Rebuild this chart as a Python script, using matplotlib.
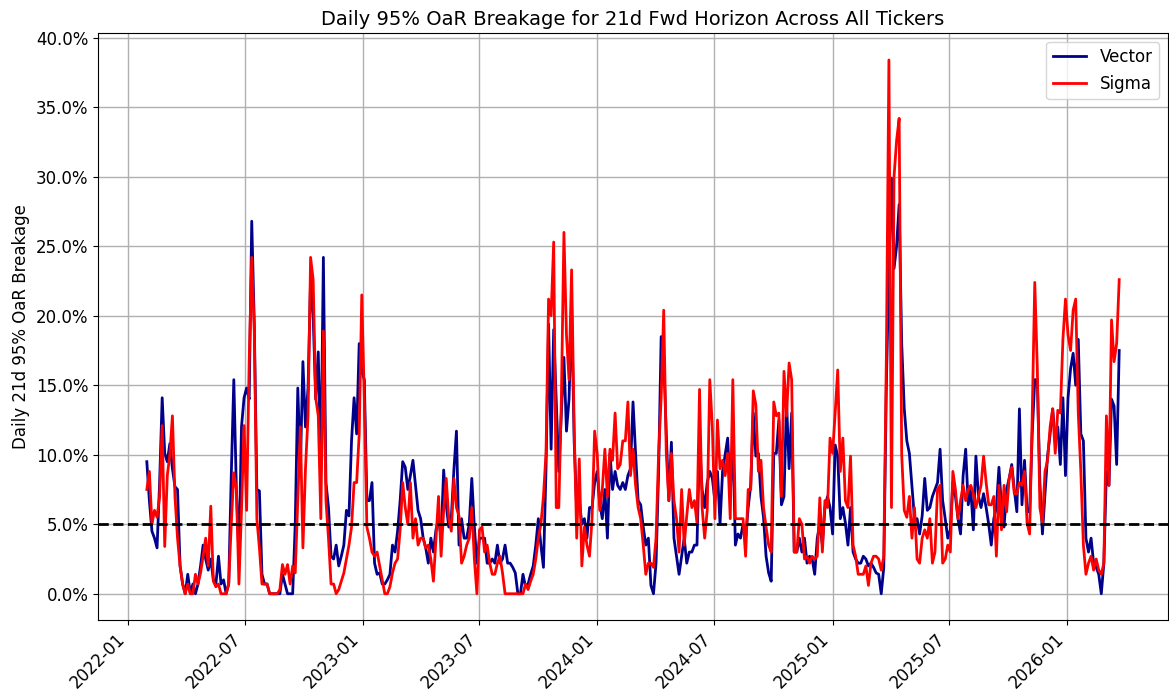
import matplotlib
matplotlib.use("Agg")
import matplotlib.pyplot as plt
import matplotlib.dates as mdates
from matplotlib.ticker import PercentFormatter
import pandas as pd
import numpy as np

start_date = "2022-01-30"
end_date = "2026-03-23"

vector_pct = [
    9.5, 6.7, 4.5, 4.0, 3.3, 8.0, 14.1, 10.1, 9.5, 10.8, 9.0, 7.7, 7.5, 2.0, 0.7, 0.0, 1.4, 0.0, 0.7, 0.0,
    0.7, 2.0, 3.5, 2.5, 1.7, 2.5, 1.0, 0.7, 2.7, 0.7, 1.0, 0.0, 0.7, 8.5, 15.4, 7.5,
    2.7, 12.0, 14.1, 14.8, 14.0, 26.8, 19.4, 7.5, 7.4, 1.4, 0.7, 0.7, 0.0, 0.0, 0.0, 0.0, 0.0, 1.4, 0.7, 0.0,
    0.0, 0.0, 5.0, 14.8, 9.0, 16.7, 12.0, 14.8, 22.6, 20.0, 14.0, 17.4, 8.8, 24.2, 8.0, 6.2, 2.7,
    2.5, 3.5, 2.0, 2.7, 3.5, 6.0, 5.6, 11.0, 14.1, 11.5, 18.0, 16.0, 15.4, 6.7, 6.7, 8.0, 2.2, 1.4, 1.5, 0.7,
    0.7, 1.0, 1.4, 3.5, 3.0, 4.5, 6.7, 9.5, 9.1, 7.5, 8.5, 9.6, 7.8, 6.0, 5.4, 4.0, 3.3,
    2.2, 4.0, 3.0, 4.6, 5.4, 4.0, 8.9, 6.4, 4.8, 5.5, 8.9, 11.7, 3.5, 5.4, 4.0, 4.0, 5.0, 8.3, 4.8, 2.2,
    4.0, 4.0, 4.0, 2.2, 2.2, 2.5, 2.2, 3.5, 2.2, 2.5, 3.5, 2.2, 2.2, 1.9, 1.5, 0.0, 0.0,
    1.4, 0.5, 0.7, 1.4, 2.0, 3.5, 5.4, 3.5, 1.9, 9.0, 19.4, 10.4, 19.0, 14.0, 8.8, 13.0, 17.0, 11.7, 14.0, 20.7,
    11.0, 6.0, 6.8, 5.0, 5.4, 4.0, 6.2, 6.2, 8.0, 8.8, 6.5, 5.4, 7.5, 4.0, 10.1, 7.5, 8.8,
    7.8, 7.5, 8.0, 7.5, 8.5, 9.0, 13.8, 10.1, 6.7, 6.4, 4.8, 3.5, 4.0, 0.6, 0.0, 2.2, 8.8, 18.5, 17.0, 11.5,
    6.7, 10.9, 4.0, 2.7, 1.4, 2.7, 4.0, 2.2, 3.0, 3.0, 3.5, 3.5, 11.0, 7.5, 6.2, 8.0, 8.8,
    8.3, 6.7, 8.8, 5.0, 8.8, 10.0, 11.2, 7.0, 11.5, 3.5, 4.3, 4.0, 5.0, 4.0, 6.2, 7.8, 13.0, 9.9, 10.1, 7.0,
    5.5, 2.7, 1.5, 0.9, 10.1, 10.1, 12.5, 6.4, 7.0, 13.8, 9.0, 13.0, 3.0, 3.0, 4.0, 3.0, 4.0,
    2.2, 2.7, 2.5, 1.4, 4.0, 5.0, 3.5, 6.2, 7.0, 6.2, 4.3, 10.7, 9.9, 5.4, 6.2, 5.1, 3.5, 6.2, 3.0, 2.5,
    2.2, 2.2, 2.7, 2.5, 2.0, 2.2, 1.9, 1.5, 1.4, 0.0, 1.9, 15.0, 23.4, 29.9, 23.4, 25.0, 28.0,
    18.0, 13.3, 11.0, 10.1, 7.8, 5.4, 5.4, 4.3, 5.6, 8.3, 6.0, 6.2, 7.0, 7.5, 8.0, 10.4, 6.7, 5.4, 4.0, 4.6,
    8.0, 7.0, 5.4, 4.3, 8.5, 10.4, 6.4, 7.5, 4.6, 9.9, 7.0, 6.2, 7.2, 6.2, 5.0, 3.5, 5.4,
    6.2, 9.1, 6.2, 4.8, 7.5, 8.3, 9.3, 7.5, 5.9, 13.3, 6.4, 9.6, 5.9, 5.9, 11.5, 15.4, 15.4, 8.0, 4.3, 7.2,
    9.9, 11.5,
    13.3, 11.0, 12.0, 9.3, 14.1, 8.5, 14.1, 16.2, 17.3, 15.0, 18.3, 11.5, 11.0, 4.0, 3.0, 4.0, 2.2, 1.9, 1.4, 0.0,
    2.2, 8.8, 7.8, 14.0, 13.5, 9.3, 17.5,
]

sigma_pct = [
    7.5, 8.8, 5.0, 6.0, 5.5, 7.0, 12.1, 3.4, 8.5, 10.0, 12.8, 7.0, 4.0, 2.0, 0.7, 0.0, 0.7, 0.0, 0.0, 1.4,
    0.7, 1.5, 2.7, 4.0, 2.0, 6.3, 0.9, 0.5, 0.7, 0.0, 0.0, 0.0, 0.7, 5.0, 8.7, 7.5,
    0.7, 6.0, 12.1, 6.0, 16.7, 24.2, 18.9, 5.4, 3.3, 0.7, 0.7, 0.7, 0.0, 0.0, 0.0, 0.0, 0.3, 2.1, 1.4, 2.1,
    0.7, 2.0, 1.5, 6.7, 12.0, 3.3, 9.0, 12.8, 24.2, 22.6, 14.1, 12.8, 5.4, 18.9, 6.7, 4.0, 0.7,
    0.7, 0.0, 0.3, 0.9, 1.5, 2.5, 3.5, 4.8, 8.0, 8.0, 11.5, 21.5, 14.0, 4.8, 4.0, 3.0, 2.7, 3.0, 2.0, 1.0,
    0.0, 0.0, 0.5, 1.5, 2.2, 2.5, 4.6, 8.0, 6.2, 5.0, 8.0, 4.0, 5.4, 3.5, 4.0, 4.0, 3.3,
    3.5, 2.5, 0.9, 4.0, 7.0, 2.7, 6.0, 8.3, 5.4, 4.5, 8.3, 6.2, 5.6, 2.2, 2.7, 3.5, 4.0, 6.2, 2.5, 0.0,
    4.6, 4.8, 3.0, 3.5, 2.2, 1.4, 1.4, 2.2, 2.7, 1.5, 0.0, 0.0, 0.0, 0.0, 0.0, 0.0, 0.0,
    0.0, 0.7, 0.3, 0.9, 1.4, 2.5, 4.0, 5.0, 7.0, 10.1, 21.2, 20.0, 25.3, 6.2, 6.2, 14.0, 26.0, 18.6, 15.4, 23.3,
    12.0, 4.0, 9.7, 2.0, 4.8, 3.5, 2.7, 5.4, 11.7, 10.1, 6.0, 7.5, 10.4, 7.0, 10.4, 9.6, 13.0,
    9.0, 9.3, 11.0, 11.0, 13.8, 8.5, 10.4, 7.8, 6.2, 5.4, 3.5, 1.4, 2.2, 2.2, 1.9, 4.0, 10.1, 14.1, 20.4, 10.1,
    6.7, 10.1, 6.7, 5.4, 3.0, 7.5, 3.5, 5.6, 7.5, 6.2, 6.7, 5.1, 14.7, 6.2, 4.0, 6.0, 15.4,
    12.0, 5.4, 12.5, 9.0, 9.6, 8.5, 10.1, 5.4, 15.4, 5.4, 5.4, 5.4, 5.4, 2.7, 7.5, 7.5, 14.6, 13.6, 8.8, 9.6,
    6.2, 4.8, 3.5, 3.0, 13.8, 12.8, 13.0, 7.0, 16.0, 12.8, 16.6, 15.4, 3.0, 3.0, 5.4, 5.0, 2.5,
    2.7, 2.2, 2.7, 2.5, 2.7, 6.9, 3.0, 6.7, 6.2, 11.2, 10.1, 13.0, 16.1, 8.8, 11.2, 6.7, 6.2, 9.9, 3.5, 2.7,
    1.4, 1.4, 1.4, 2.0, 0.6, 2.2, 2.7, 2.7, 2.5, 1.7, 2.7, 17.0, 38.4, 6.2, 30.0, 32.6, 34.2,
    10.0, 6.0, 5.5, 7.0, 4.0, 6.2, 2.5, 2.2, 4.0, 4.6, 4.0, 5.4, 2.2, 3.0, 7.5, 7.8, 2.2, 2.5, 3.5, 3.0,
    8.8, 7.5, 5.4, 6.7, 7.8, 6.7, 7.5, 7.8, 7.2, 6.2, 7.0, 7.8, 9.9, 8.0, 6.4, 6.4, 7.0,
    2.7, 7.8, 4.6, 7.8, 5.9, 8.3, 9.1, 7.2, 7.2, 8.0, 7.8, 8.8, 5.1, 4.3, 12.8, 22.4, 16.2, 6.2, 5.1, 8.8,
    9.6, 12.0,
    13.3, 10.1, 13.2, 13.0, 18.3, 21.2, 18.6, 17.5, 20.4, 21.2, 13.0, 8.8, 3.5, 1.4, 2.2, 2.7, 1.7, 2.5, 1.7, 1.4,
    2.2, 12.8, 7.8, 19.7, 16.7, 18.0, 22.6,
]

n = min(len(vector_pct), len(sigma_pct))
dates = pd.date_range(start_date, end_date, periods=n)
vector = np.array(vector_pct[:n]) / 100.0
sigma = np.array(sigma_pct[:n]) / 100.0

plt.rcParams["font.family"] = ["DejaVu Sans"]
plt.rcParams["font.size"] = 12

fig = plt.figure(figsize=(11.69, 6.94), dpi=100)
ax = fig.add_axes([0.084, 0.106, 0.915, 0.846])

ax.plot(dates, vector, color="#00008B", lw=2, label="Vector")
ax.plot(dates, sigma, color="red", lw=2, label="Sigma")
ax.axhline(0.05, color="black", ls="--", lw=2)

ax.set_title("Daily 95% OaR Breakage for 21d Fwd Horizon Across All Tickers", fontsize=14)
ax.set_ylabel("Daily 21d 95% OaR Breakage", fontsize=12)
ax.yaxis.set_major_formatter(PercentFormatter(1.0, decimals=1))
ax.xaxis.set_major_locator(mdates.MonthLocator(bymonth=[1, 7]))
ax.xaxis.set_major_formatter(mdates.DateFormatter("%Y-%m"))
plt.setp(ax.get_xticklabels(), rotation=45, ha="right")
ax.grid(True, color="#b0b0b0", lw=1)
ax.legend(loc="upper right", fontsize=12)

fig.savefig("out.png", dpi=100)
